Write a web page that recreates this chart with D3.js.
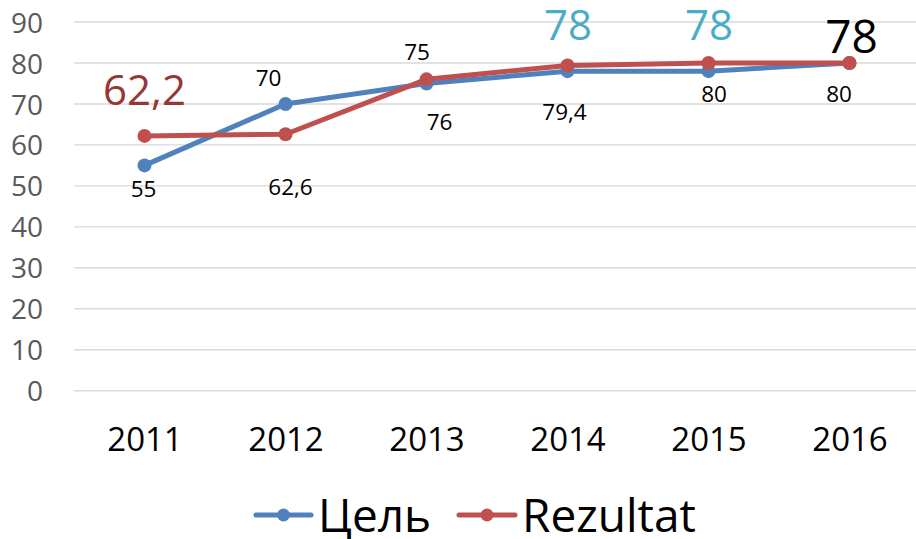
<!DOCTYPE html>
<html>
<head>
<meta charset="utf-8">
<script src="https://cdn.jsdelivr.net/npm/d3@7"></script>
<style>
  html, body { margin: 0; padding: 0; background: #fff; }
  svg { display: block; font-family: "Open Sans", "Noto Sans", sans-serif; }
</style>
</head>
<body>
<svg id="chart" width="916" height="539"></svg>
<script>
// ---- data ----
const categories = ["2011", "2012", "2013", "2014", "2015", "2016"];
const seriesNames = ["Цель", "Rezultat"];
const targetValues = [55, 70, 75, 78, 78, 80];          // Цель
const resultValues = [62.2, 62.6, 76, 79.4, 80, 80];    // Rezultat
const yTicks = [0, 10, 20, 30, 40, 50, 60, 70, 80, 90];
const targetLabels = ["55", "70", "75", "78", "78", "78"];
const resultLabels = ["62,2", "62,6", "76", "79,4", "80", "80"];

// ---- styling / placement ----
const colors = ["#4F81BD", "#C0504D"];
const targetLabelStyle = [
  {dx: -1, dy: 32, size: 22.5, fill: "#000"},
  {dx: -17, dy: -18, size: 22.5, fill: "#000"},
  {dx: -9.5, dy: -23, size: 22.5, fill: "#000"},
  {dx: 0.5, dy: -31, size: 42, fill: "#4BACC6"},
  {dx: 0.5, dy: -31, size: 42, fill: "#4BACC6"},
  {dx: 2, dy: -10, size: 46, fill: "#000"}
];
const resultLabelStyle = [
  {dx: 0, dy: -31, size: 42, fill: "#953735"},
  {dx: 5, dy: 61, size: 22.5, fill: "#000"},
  {dx: 13, dy: 51, size: 22.5, fill: "#000"},
  {dx: -3, dy: 55, size: 22.5, fill: "#000"},
  {dx: 5.5, dy: 39, size: 22.5, fill: "#000"},
  {dx: -10.5, dy: 39, size: 22.5, fill: "#000"}
];

const svg = d3.select("#chart");
const plotLeft = 74, plotRight = 916;

const x = d3.scalePoint().domain(categories).range([74, 920]).padding(0.5);
const y = d3.scaleLinear().domain([0, 90]).range([390.7, 22]);

// gridlines
svg.append("g").selectAll("line").data(yTicks).join("line")
  .attr("x1", plotLeft).attr("x2", plotRight)
  .attr("y1", d => y(d)).attr("y2", d => y(d))
  .attr("stroke", "#d9d9d9").attr("stroke-width", 1.4);

// y axis
const yAxis = d3.axisLeft(y).tickValues(yTicks).tickSize(0).tickPadding(0);
const gy = svg.append("g").attr("transform", "translate(43,0)").call(yAxis);
gy.select(".domain").remove();
gy.selectAll("text").attr("font-size", 28).attr("fill", "#595959")
  .attr("font-family", "'Open Sans', sans-serif").attr("dy", "0.36em");

// x axis
const xAxis = d3.axisBottom(x).tickSize(0).tickPadding(0);
const gx = svg.append("g").attr("transform", "translate(0,451)").call(xAxis);
gx.select(".domain").remove();
gx.selectAll("text").attr("font-size", 33).attr("fill", "#000")
  .attr("font-family", "'Open Sans', sans-serif").attr("dy", 0);

// lines
const line = d3.line().x((d, i) => x(categories[i])).y(d => y(d));
const allSeries = [targetValues, resultValues];
allSeries.forEach((vals, si) => {
  const g = svg.append("g");
  g.append("path").datum(vals).attr("d", line)
    .attr("fill", "none").attr("stroke", colors[si]).attr("stroke-width", 5)
    .attr("stroke-linejoin", "round").attr("stroke-linecap", "round");
  g.selectAll("circle").data(vals).join("circle")
    .attr("cx", (d, i) => x(categories[i])).attr("cy", d => y(d))
    .attr("r", 7).attr("fill", colors[si]);
});

// data labels
function drawLabels(vals, labels, styles) {
  svg.append("g").selectAll("text").data(labels).join("text")
    .attr("x", (d, i) => x(categories[i]) + styles[i].dx)
    .attr("y", (d, i) => y(vals[i]) + styles[i].dy)
    .attr("text-anchor", "middle")
    .attr("font-size", (d, i) => styles[i].size)
    .attr("fill", (d, i) => styles[i].fill)
    .text(d => d);
}
drawLabels(targetValues, targetLabels, targetLabelStyle);
drawLabels(resultValues, resultLabels, resultLabelStyle);

// legend
const legendItems = [
  {x0: 256, x1: 311, tx: 318},
  {x0: 459, x1: 515, tx: 522}
];
const lg = svg.append("g");
legendItems.forEach((it, i) => {
  lg.append("line").attr("x1", it.x0).attr("x2", it.x1).attr("y1", 515).attr("y2", 515)
    .attr("stroke", colors[i]).attr("stroke-width", 5).attr("stroke-linecap", "round");
  lg.append("circle").attr("cx", (it.x0 + it.x1) / 2).attr("cy", 515).attr("r", 6.5).attr("fill", colors[i]);
  lg.append("text").attr("x", it.tx).attr("y", 532).attr("font-size", 46).attr("fill", "#000")
    .text(seriesNames[i]);
});
</script>
</body>
</html>
